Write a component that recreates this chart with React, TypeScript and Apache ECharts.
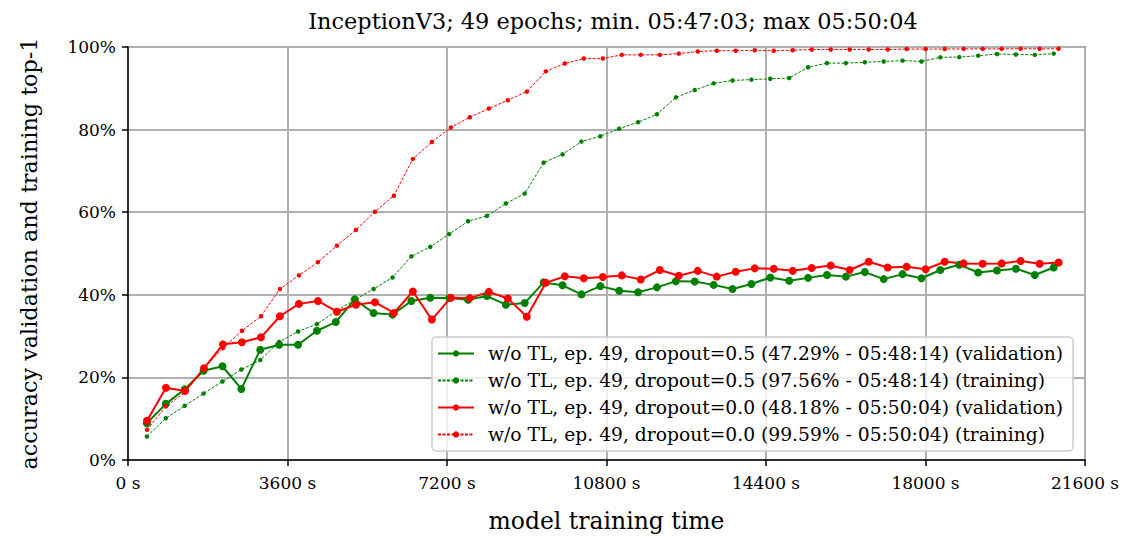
import React, { useEffect, useRef } from "react";
import * as echarts from "echarts";

const greenTimes = [426, 853, 1279, 1706, 2132, 2558, 2985, 3411, 3838, 4264, 4690, 5117, 5543, 5970, 6396, 6822, 7249, 7675, 8102, 8528, 8954, 9381, 9807, 10234, 10660, 11086, 11513, 11939, 12366, 12792, 13218, 13645, 14071, 14498, 14924, 15350, 15777, 16203, 16630, 17056, 17482, 17909, 18335, 18762, 19188, 19614, 20041, 20467, 20894];
const redTimes = [429, 857, 1286, 1715, 2143, 2572, 3001, 3429, 3858, 4287, 4715, 5144, 5573, 6001, 6430, 6859, 7287, 7716, 8145, 8573, 9002, 9431, 9859, 10288, 10717, 11145, 11574, 12003, 12431, 12860, 13289, 13717, 14146, 14575, 15003, 15432, 15861, 16289, 16718, 17147, 17575, 18004, 18433, 18861, 19290, 19719, 20147, 20576, 21004];

const greenVal = [8.9, 13.6, 17.1, 21.6, 22.7, 17.2, 26.7, 27.9, 27.9, 31.3, 33.4, 38.9, 35.6, 35.2, 38.5, 39.3, 39.2, 38.8, 39.7, 37.6, 38.0, 43.0, 42.3, 40.1, 42.1, 41.0, 40.6, 41.8, 43.3, 43.2, 42.4, 41.4, 42.6, 44.2, 43.4, 44.1, 44.8, 44.4, 45.5, 43.8, 45.0, 44.0, 46.0, 47.29, 45.4, 45.9, 46.3, 44.8, 46.6];
const greenTrain = [5.7, 10.1, 13.1, 16.1, 19.0, 21.9, 24.2, 28.6, 31.1, 32.9, 36.0, 38.8, 41.4, 44.2, 49.3, 51.6, 54.7, 57.8, 59.1, 62.1, 64.5, 72.0, 74.0, 77.1, 78.4, 80.2, 81.8, 83.7, 87.8, 89.6, 91.2, 91.9, 92.1, 92.3, 92.5, 95.1, 96.1, 96.1, 96.3, 96.5, 96.7, 96.5, 97.5, 97.56, 97.9, 98.3, 98.2, 98.1, 98.4];
const redVal = [9.5, 17.5, 16.7, 22.2, 28.0, 28.5, 29.7, 34.8, 37.8, 38.5, 35.9, 37.6, 38.2, 35.6, 40.8, 34.0, 39.3, 39.2, 40.7, 39.1, 34.7, 42.9, 44.5, 44.0, 44.3, 44.7, 43.7, 46.0, 44.6, 45.8, 44.4, 45.6, 46.4, 46.3, 45.8, 46.5, 47.1, 46.0, 48.0, 46.6, 46.8, 46.2, 48.0, 47.6, 47.5, 47.6, 48.18, 47.5, 47.8];
const redTrain = [7.3, 13.0, 16.4, 22.2, 27.1, 31.3, 34.8, 41.4, 44.7, 47.9, 51.9, 55.7, 60.1, 64.0, 72.9, 77.0, 80.5, 83.0, 85.1, 87.1, 89.2, 94.1, 96.0, 97.2, 97.2, 98.1, 98.1, 98.1, 98.4, 98.9, 99.1, 99.1, 99.2, 99.1, 99.2, 99.4, 99.4, 99.4, 99.4, 99.4, 99.5, 99.5, 99.5, 99.55, 99.55, 99.55, 99.59, 99.55, 99.57];

const seriesNames = [
  "w/o TL, ep. 49, dropout=0.5 (47.29% - 05:48:14) (validation)",
  "w/o TL, ep. 49, dropout=0.5 (97.56% - 05:48:14) (training)",
  "w/o TL, ep. 49, dropout=0.0 (48.18% - 05:50:04) (validation)",
  "w/o TL, ep. 49, dropout=0.0 (99.59% - 05:50:04) (training)",
];
const xTicks = [0, 3600, 7200, 10800, 14400, 18000, 21600];
const titleText = "InceptionV3; 49 epochs; min. 05:47:03; max 05:50:04";

const FONT = "'DejaVu Serif', serif";

function pairs(t: number[], v: number[]) {
  return t.map((x, i) => [x, v[i]]);
}

export default function App() {
  const ref = useRef<HTMLDivElement>(null);
  useEffect(() => {
    if (!ref.current) return;
    const chart = echarts.init(ref.current, undefined, { renderer: "svg" });
    const valSeries = (name: string, color: string, data: number[][]) => ({
      name,
      type: "line",
      data,
      symbol: "circle",
      symbolSize: 8,
      showSymbol: true,
      lineStyle: { color, width: 2 },
      itemStyle: { color },
      emphasis: { disabled: true },
    });
    const trainSeries = (name: string, color: string, data: number[][]) => ({
      name,
      type: "line",
      data,
      symbol: "circle",
      symbolSize: 4.5,
      showSymbol: true,
      lineStyle: { color, width: 1, type: [3, 1.5] },
      itemStyle: { color },
      emphasis: { disabled: true },
    });
    chart.setOption({
      animation: false,
      title: {
        text: titleText,
        left: 608,
        textAlign: "center",
        top: 5,
        textStyle: { fontFamily: FONT, fontSize: 22.4, fontWeight: "normal", color: "#000" },
      },
      grid: {
        left: 128,
        right: 38,
        top: 47,
        bottom: 77,
        show: true,
        borderColor: "#000",
        borderWidth: 1.5,
        backgroundColor: "transparent",
      },
      legend: {
        orient: "vertical",
        left: 432,
        top: 337,
        itemWidth: 36,
        itemHeight: 8,
        itemGap: 8,
        padding: [7, 10, 7, 5],
        backgroundColor: "rgba(255,255,255,0.8)",
        borderColor: "#cccccc",
        borderWidth: 1.5,
        borderRadius: 4,
        textStyle: { fontFamily: FONT, fontSize: 18.7, color: "#000", padding: [0, 0, 0, 9] },
        data: seriesNames,
      },
      xAxis: {
        type: "value",
        min: 0,
        max: 21600,
        interval: 3600,
        name: "model training time",
        nameLocation: "middle",
        nameGap: 49,
        nameTextStyle: { fontFamily: FONT, fontSize: 23.5, color: "#000" },
        axisLine: { show: true, lineStyle: { color: "#000", width: 1.5 } },
        axisTick: { show: true, inside: false, length: 6, lineStyle: { color: "#000", width: 1.5 } },
        axisLabel: {
          fontFamily: FONT,
          fontSize: 17,
          color: "#000",
          margin: 14,
          formatter: (v: number) => (xTicks.includes(v) ? `${v} s` : ""),
        },
        splitLine: { show: true, lineStyle: { color: "#b0b0b0", width: 2 } },
      },
      yAxis: {
        type: "value",
        min: 0,
        max: 100,
        interval: 20,
        name: "accuracy validation and training top-1",
        nameLocation: "middle",
        nameGap: 88,
        nameTextStyle: { fontFamily: FONT, fontSize: 22.3, color: "#000" },
        axisLine: { show: true, lineStyle: { color: "#000", width: 1.5 } },
        axisTick: { show: true, inside: false, length: 6, lineStyle: { color: "#000", width: 1.5 } },
        axisLabel: {
          fontFamily: FONT,
          fontSize: 17,
          color: "#000",
          margin: 12,
          formatter: "{value}%",
        },
        splitLine: { show: true, lineStyle: { color: "#b0b0b0", width: 2 } },
      },
      series: [
        valSeries(seriesNames[0], "#008000", pairs(greenTimes, greenVal)),
        trainSeries(seriesNames[1], "#008000", pairs(greenTimes, greenTrain)),
        valSeries(seriesNames[2], "#ff0000", pairs(redTimes, redVal)),
        trainSeries(seriesNames[3], "#ff0000", pairs(redTimes, redTrain)),
      ],
    });
    return () => chart.dispose();
  }, []);
  return <div ref={ref} style={{ width: 1123, height: 538, position: "absolute", left: 0, top: 0 }} />;
}
